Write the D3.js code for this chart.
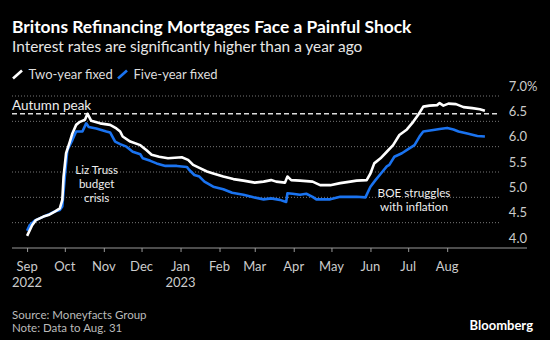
<!DOCTYPE html>
<html><head><meta charset="utf-8">
<script src="https://cdn.jsdelivr.net/npm/d3@7"></script>
<style>
html,body{margin:0;padding:0;background:#000;}
svg{display:block;}
text{font-family:"Source Sans Pro","Lato","Noto Sans",sans-serif;}
</style></head>
<body>
<svg id="c" width="550" height="340"></svg>
<script>
const title = "Britons Refinancing Mortgages Face a Painful Shock";
const subtitle = "Interest rates are significantly higher than a year ago";
const seriesNames = ["Two-year fixed", "Five-year fixed"];
const yTicks = [4.0, 4.5, 5.0, 5.5, 6.0, 6.5, 7.0];
const monthTicks = ["2022-09-01","2022-10-01","2022-11-01","2022-12-01","2023-01-01","2023-02-01","2023-03-01","2023-04-01","2023-05-01","2023-06-01","2023-07-01","2023-08-01"];
const monthLabels = ["Sep","Oct","Nov","Dec","Jan","Feb","Mar","Apr","May","Jun","Jul","Aug"];
const yearLabels = {"2022-09-01":"2022","2023-01-01":"2023"};
const autumnPeak = 6.65;

const twoYearDates = ["2022-09-01","2022-09-05","2022-09-08","2022-09-14","2022-09-18","2022-09-23","2022-09-27","2022-09-29","2022-09-30","2022-10-02","2022-10-05","2022-10-07","2022-10-10","2022-10-13","2022-10-17","2022-10-19","2022-10-22","2022-10-29","2022-11-06","2022-11-11","2022-11-14","2022-11-16","2022-11-22","2022-11-30","2022-12-05","2022-12-09","2022-12-15","2022-12-22","2023-01-02","2023-01-07","2023-01-11","2023-01-16","2023-01-22","2023-01-27","2023-02-04","2023-02-12","2023-02-20","2023-03-01","2023-03-08","2023-03-14","2023-03-18","2023-03-25","2023-03-27","2023-03-30","2023-04-06","2023-04-16","2023-04-22","2023-04-30","2023-05-08","2023-05-16","2023-05-21","2023-05-29","2023-06-01","2023-06-04","2023-06-09","2023-06-14","2023-06-19","2023-06-24","2023-06-30","2023-07-05","2023-07-09","2023-07-13","2023-07-18","2023-07-24","2023-07-26","2023-07-29","2023-08-02","2023-08-08","2023-08-14","2023-08-21","2023-08-27","2023-08-31"];
const twoYearValues = [4.24,4.45,4.55,4.62,4.65,4.72,4.78,4.95,5.41,5.87,6.10,6.26,6.43,6.49,6.53,6.65,6.51,6.46,6.43,6.36,6.30,6.20,6.10,6.03,5.93,5.84,5.80,5.77,5.79,5.74,5.64,5.58,5.51,5.47,5.41,5.36,5.33,5.29,5.31,5.34,5.31,5.29,5.41,5.34,5.33,5.31,5.24,5.24,5.28,5.31,5.33,5.34,5.47,5.67,5.77,5.90,6.03,6.23,6.34,6.49,6.63,6.79,6.81,6.82,6.86,6.81,6.85,6.84,6.78,6.76,6.74,6.71];

const fiveYearDates = ["2022-09-01","2022-09-03","2022-09-07","2022-09-14","2022-09-18","2022-09-23","2022-09-27","2022-09-29","2022-10-01","2022-10-03","2022-10-07","2022-10-10","2022-10-15","2022-10-18","2022-10-20","2022-10-26","2022-11-03","2022-11-06","2022-11-10","2022-11-14","2022-11-19","2022-11-24","2022-11-30","2022-12-02","2022-12-08","2022-12-13","2022-12-20","2022-12-29","2023-01-06","2023-01-08","2023-01-12","2023-01-16","2023-01-20","2023-01-27","2023-02-04","2023-02-11","2023-02-20","2023-02-28","2023-03-08","2023-03-14","2023-03-21","2023-03-26","2023-03-27","2023-03-31","2023-04-06","2023-04-11","2023-04-16","2023-04-19","2023-04-30","2023-05-08","2023-05-21","2023-05-28","2023-06-01","2023-06-05","2023-06-09","2023-06-14","2023-06-16","2023-06-20","2023-06-26","2023-07-01","2023-07-06","2023-07-10","2023-07-13","2023-07-21","2023-07-26","2023-08-01","2023-08-06","2023-08-10","2023-08-17","2023-08-25","2023-08-31"];
const fiveYearValues = [4.34,4.45,4.54,4.62,4.66,4.72,4.75,4.82,5.41,5.93,6.13,6.30,6.30,6.46,6.39,6.36,6.30,6.28,6.10,6.05,6.00,5.90,5.85,5.77,5.72,5.67,5.62,5.62,5.60,5.54,5.44,5.41,5.31,5.21,5.16,5.09,5.05,5.00,4.96,4.98,4.95,4.91,5.08,5.07,5.05,5.07,5.01,4.96,4.96,5.01,5.01,5.00,5.21,5.34,5.46,5.61,5.64,5.80,5.87,5.95,6.03,6.20,6.30,6.33,6.35,6.37,6.34,6.30,6.26,6.21,6.20];

const parse = d3.timeParse("%Y-%m-%d");
const svg = d3.select("#c");
svg.append("rect").attr("width",550).attr("height",340).attr("fill","#000");

const x = d3.scaleTime().domain([parse("2022-08-20"), parse("2023-09-12")]).range([12, 500]);
const y = d3.scaleLinear().domain([4, 7]).range([248, 96]);

// titles
svg.append("text").attr("x",12).attr("y",33).attr("fill","#fff").attr("font-size",17.4).attr("font-weight",700).text(title);
svg.append("text").attr("x",12).attr("y",52).attr("fill","#e6e6e6").attr("font-size",15.4).text(subtitle);

// legend
const legColors = ["#ffffff","#1a73f0"];
const legX = [13, 118];
seriesNames.forEach((n,i)=>{
  svg.append("line").attr("x1",legX[i]).attr("y1",78.5).attr("x2",legX[i]+9).attr("y2",70.5)
    .attr("stroke",legColors[i]).attr("stroke-width",2.6);
  svg.append("text").attr("x",legX[i]+15.5).attr("y",78.5).attr("fill","#ddd").attr("font-size",13).text(n);
});

// gridlines
svg.append("g").selectAll("line").data(yTicks.slice(1)).join("line")
  .attr("x1",12).attr("x2",500).attr("y1",d=>y(d)).attr("y2",d=>y(d))
  .attr("stroke","#777").attr("stroke-width",1).attr("stroke-dasharray","1,2");

// y labels
const yl = svg.append("g");
yTicks.forEach(t=>{
  yl.append("text").attr("x",527).attr("y",y(t)-5.5).attr("text-anchor","end")
    .attr("fill","#ccc").attr("font-size",13).text(t.toFixed(1));
});
yl.append("text").attr("x",527).attr("y",y(7)-5.5).attr("fill","#ccc").attr("font-size",13).text("%");

// x axis
const xAxis = d3.axisBottom(x).tickValues(monthTicks.map(parse)).tickSize(4).tickFormat("");
const gx = svg.append("g").attr("transform","translate(0,248)").call(xAxis);
gx.select(".domain").remove();
gx.selectAll(".tick line").attr("stroke","#999");
svg.append("line").attr("x1",12).attr("x2",527).attr("y1",248).attr("y2",248).attr("stroke","#999").attr("stroke-width",1);
monthTicks.forEach((m,i)=>{
  svg.append("text").attr("x",x(parse(m))).attr("y",271).attr("text-anchor","middle")
    .attr("fill","#ccc").attr("font-size",13).text(monthLabels[i]);
  if (yearLabels[m]) svg.append("text").attr("x",x(parse(m))).attr("y",287).attr("text-anchor","middle")
    .attr("fill","#ccc").attr("font-size",13).text(yearLabels[m]);
});

// autumn peak
svg.append("line").attr("x1",12).attr("x2",500).attr("y1",y(autumnPeak)).attr("y2",y(autumnPeak))
  .attr("stroke","#ddd").attr("stroke-width",1.6).attr("stroke-dasharray","5,3");
svg.append("text").attr("x",12).attr("y",y(autumnPeak)-4).attr("fill","#eee").attr("font-size",13.5).text("Autumn peak");

// lines
const line = d3.line().x(d=>x(d[0])).y(d=>y(d[1]));
const five = fiveYearDates.map((d,i)=>[parse(d), fiveYearValues[i]]);
const two = twoYearDates.map((d,i)=>[parse(d), twoYearValues[i]]);
svg.append("path").datum(five).attr("d",line).attr("fill","none").attr("stroke","#1a73f0").attr("stroke-width",2.6).attr("stroke-linejoin","round");
svg.append("path").datum(two).attr("d",line).attr("fill","none").attr("stroke","#ffffff").attr("stroke-width",2.6).attr("stroke-linejoin","round");

// annotations (multi-line, one text element each)
function multiline(lines, cx, y0, lh, fs){
  const t = svg.append("text").attr("x",cx).attr("y",y0).attr("text-anchor","middle").attr("fill","#eee").attr("font-size",fs);
  lines.forEach((s,i)=>t.append("tspan").attr("x",cx).attr("dy", i===0?0:lh).text(s));
}
multiline(["Liz Truss","budget","crisis"], 96.7, 174, 13.9, 11.6);
multiline(["BOE struggles","with inflation"], 414, 196.5, 14, 11.7);

// footer
svg.append("text").attr("x",12).attr("y",318.5).attr("fill","#bbb").attr("font-size",11.5).text("Source: Moneyfacts Group");
svg.append("text").attr("x",12).attr("y",331.5).attr("fill","#bbb").attr("font-size",11.5).text("Note: Data to Aug. 31");
svg.append("text").attr("x",533).attr("y",330).attr("text-anchor","end").attr("fill","#fff").attr("font-size",13).attr("font-weight",700).text("Bloomberg");
</script>
</body></html>
